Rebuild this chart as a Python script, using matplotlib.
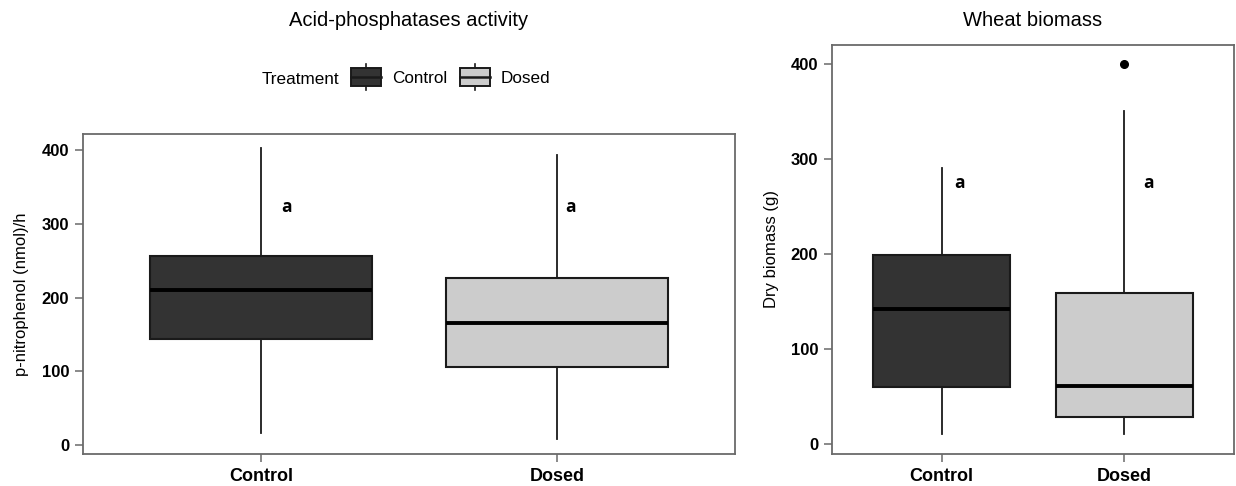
import matplotlib
matplotlib.use('Agg')
import matplotlib.pyplot as plt
from matplotlib.legend_handler import HandlerBase
from matplotlib.patches import Rectangle, Patch
from matplotlib.lines import Line2D

plt.rcParams['font.family'] = ['Liberation Sans', 'DejaVu Sans']

# ---------------- data ----------------
treatments = ['Control', 'Dosed']
fill_colors = ['#333333', '#cccccc']

# Acid-phosphatases activity, p-nitrophenol (nmol)/h
ap_low = [16, 9]
ap_q1 = [144, 106]
ap_median = [210, 166]
ap_q3 = [256, 227]
ap_high = [403, 394]
ap_outliers = [[], []]
ap_letters = ['a', 'a']
ap_letter_y = [323, 323]

# Wheat biomass, dry biomass (g)
wb_low = [11, 11]
wb_q1 = [60, 29]
wb_median = [142, 61]
wb_q3 = [199, 159]
wb_high = [291, 351]
wb_outliers = [[], [400]]
wb_letters = ['a', 'a']
wb_letter_y = [275, 275]

yticks = [0, 100, 200, 300, 400]

# ---------------- style ----------------
W, H = 1236, 486
fig = plt.figure(figsize=(W / 100, H / 100), dpi=100)

def px_axes(x0, y0, x1, y1):
    return fig.add_axes([x0 / W, 1 - y1 / H, (x1 - x0) / W, (y1 - y0) / H])

ax1 = px_axes(83, 134, 735, 454)
ax2 = px_axes(832, 45, 1234, 454)

spine_col = '#6a6a6a'

def make_stats(low, q1, med, q3, high, outl):
    return [dict(whislo=low[i], q1=q1[i], med=med[i], q3=q3[i], whishi=high[i],
                 fliers=outl[i], label=treatments[i]) for i in range(len(low))]

def draw_panel(ax, stats, ylim, letters, letter_y, letter_dx, ylabel):
    bp = ax.bxp(stats, positions=[1, 2], widths=0.75, patch_artist=True,
                showcaps=False,
                boxprops=dict(edgecolor='#1a1a1a', linewidth=1.5),
                whiskerprops=dict(color='#1a1a1a', linewidth=1.3),
                medianprops=dict(color='black', linewidth=2.8),
                flierprops=dict(marker='o', markerfacecolor='black',
                                markeredgecolor='black', markersize=5.5))
    for patch, c in zip(bp['boxes'], fill_colors):
        patch.set_facecolor(c)
    ax.set_xlim(0.4, 2.6)
    ax.set_ylim(*ylim)
    ax.set_xticks([1, 2])
    ax.set_xticklabels(treatments, fontsize=13, fontweight='bold')
    ax.set_yticks(yticks)
    ax.set_yticklabels([str(v) for v in yticks], fontsize=12, fontweight='bold')
    ax.tick_params(axis='both', length=6, width=1.1, color=spine_col, labelcolor='black')
    ax.tick_params(axis='y', pad=4)
    ax.tick_params(axis='x', pad=4)
    for s in ax.spines.values():
        s.set_color(spine_col)
        s.set_linewidth(1.3)
    for i, (lt, ly) in enumerate(zip(letters, letter_y)):
        ax.text(i + 1 + letter_dx[i], ly, lt, fontsize=12.5, fontweight='bold',
                ha='center', va='center', family=['Open Sans', 'DejaVu Sans'])
    ax.set_ylabel(ylabel, fontsize=12)

draw_panel(ax1, make_stats(ap_low, ap_q1, ap_median, ap_q3, ap_high, ap_outliers),
           (-12, 422), ap_letters, ap_letter_y, [0.085, 0.044],
           'p-nitrophenol (nmol)/h')
ax1.yaxis.set_label_coords(-0.083, 0.5)

draw_panel(ax2, make_stats(wb_low, wb_q1, wb_median, wb_q3, wb_high, wb_outliers),
           (-10, 420), wb_letters, wb_letter_y, [0.098, 0.133],
           'Dry biomass (g)')
ax2.yaxis.set_label_coords(-0.133, 0.5)

# titles
fig.text(409 / W, 1 - 20 / H, 'Acid-phosphatases activity', fontsize=14.5,
         ha='center', va='center')
fig.text(1033 / W, 1 - 20 / H, 'Wheat biomass', fontsize=14.5,
         ha='center', va='center')

# legend with boxplot-style keys
class BoxKeyHandler(HandlerBase):
    def create_artists(self, legend, orig_handle, xdescent, ydescent,
                       width, height, fontsize, trans):
        x0, y0 = -xdescent, -ydescent
        whisk = Line2D([x0 + width / 2, x0 + width / 2],
                       [y0 - 0.27 * height, y0 + 1.27 * height],
                       color='#1a1a1a', lw=1.2, transform=trans)
        rect = Rectangle((x0, y0), width, height,
                         facecolor=orig_handle.get_facecolor(),
                         edgecolor='#1a1a1a', lw=1.4, transform=trans)
        med = Line2D([x0, x0 + width], [y0 + height / 2, y0 + height / 2],
                     color='#1a1a1a', lw=1.8, transform=trans)
        return [whisk, rect, med]

handles = [Patch(facecolor=c) for c in fill_colors]
fig.text(262 / W, 1 - 79 / H, 'Treatment', fontsize=12.3, ha='left', va='center')
leg = fig.legend(handles, treatments, loc='center left',
                 bbox_to_anchor=(351 / W, 1 - 77 / H), ncol=2, frameon=False,
                 fontsize=12.3, handler_map={Patch: BoxKeyHandler()},
                 handlelength=1.78, handleheight=1.2, handletextpad=0.6,
                 columnspacing=0.75, borderpad=0, borderaxespad=0)

fig.savefig('out.png', dpi=100)
